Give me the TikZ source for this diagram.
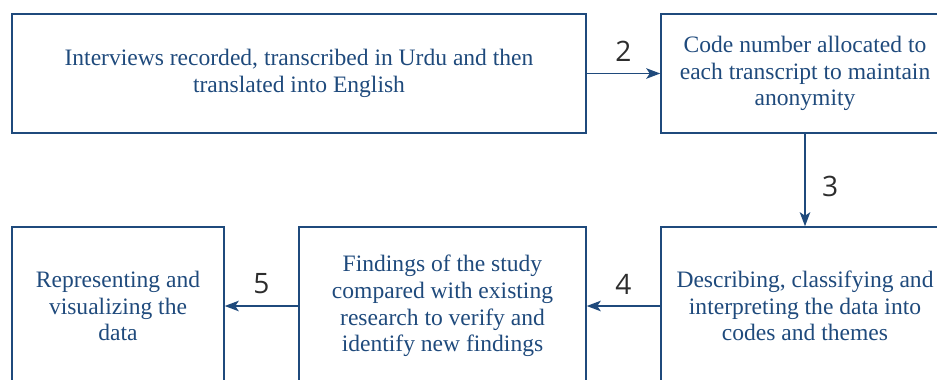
\documentclass[tikz,border=0pt]{standalone}
\usepackage{fontspec}
\setmainfont{Liberation Serif}
\newfontfamily\numfont{Open Sans}
\usepackage{xcolor}
\usetikzlibrary{arrows.meta,positioning}
\definecolor{stepblue}{RGB}{31,74,124}
\definecolor{numgray}{RGB}{45,45,45}

\begin{document}
\begin{tikzpicture}[
    stepbox/.style={draw=stepblue, line width=0.85pt, align=center, font=\fontsize{13.4}{15.2}\selectfont, text=stepblue, inner sep=0pt},
    arr/.style={-{Stealth[length=8pt, width=6pt, inset=2pt]}, line width=0.85pt, draw=stepblue},
    num/.style={font=\numfont\fontsize{16}{18}\selectfont, text=numgray},
]
\useasboundingbox (0,0) rectangle (18.74,7.58);
\node[stepbox, minimum width=11.48cm, minimum height=2.38cm] (rec) at (5.98, 6.11) {Interviews recorded, transcribed in Urdu and then\\translated into English};
\node[stepbox, minimum width=5.76cm, minimum height=2.38cm] (code) at (16.1, 6.11) {Code number allocated to\\each transcript to maintain\\anonymity};
\node[stepbox, minimum width=5.76cm, minimum height=3.16cm] (desc) at (16.1, 1.46) {Describing, classifying and\\interpreting the data into\\codes and themes};
\node[stepbox, minimum width=5.74cm, minimum height=3.16cm] (find) at (8.85, 1.46) {Findings of the study\\compared with existing\\research to verify and\\identify new findings};
\node[stepbox, minimum width=4.24cm, minimum height=3.16cm] (repr) at (2.36, 1.46) {Representing and\\visualizing the\\data};

\draw[arr] (rec) -- (code) node[midway, above=3pt, num] {2};
\draw[arr] (code) -- (desc) node[pos=0.57, right=6pt, num] {3};
\draw[arr] (desc) -- (find) node[midway, above=3pt, num] {4};
\draw[arr] (find) -- (repr) node[midway, above=3pt, num] {5};
\end{tikzpicture}
\end{document}
